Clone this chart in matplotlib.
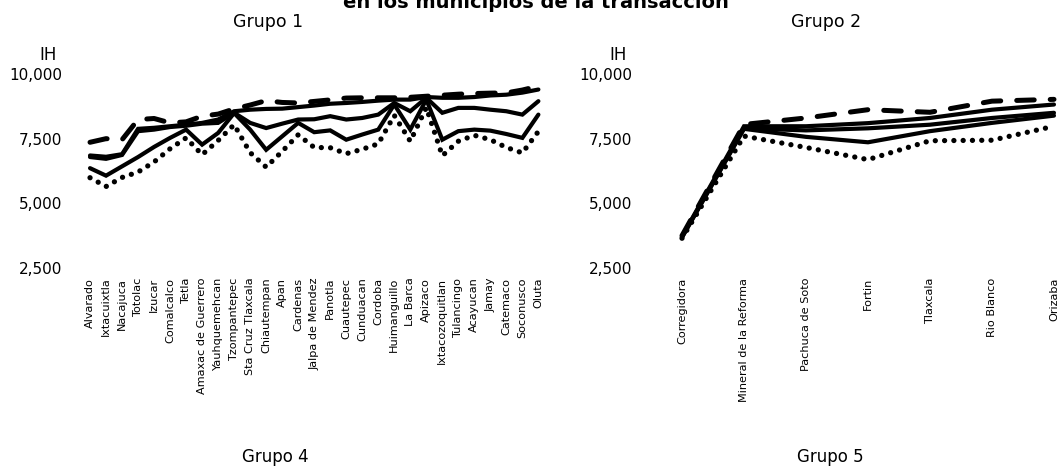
import matplotlib
matplotlib.use("Agg")
import matplotlib.pyplot as plt

plt.rcParams['font.family'] = ['DejaVu Sans']

# Municipios del grupo 1
g1_municipios = [
    "Alvarado", "Ixtacuixtla", "Nacajuca", "Totolac", "Izucar", "Comalcalco",
    "Tetla", "Amaxac de Guerrero", "Yauhquemehcan", "Tzompantepec",
    "Sta Cruz Tlaxcala", "Chiautempan", "Apan", "Cardenas", "Jalpa de Mendez",
    "Panotla", "Cuautepec", "Cunduacan", "Cordoba", "Huimanguillo", "La Barca",
    "Apizaco", "Ixtacozoquitlan", "Tulancingo", "Acayucan", "Jamay",
    "Catemaco", "Soconusco", "Oluta",
]
g1_max = [7360, 7500, 7460, 8240, 8280, 8110, 8150, 8370, 8450, 8650, 8800,
          8970, 8900, 8880, 8940, 9000, 9070, 9080, 9080, 9080, 9100, 9140,
          9180, 9220, 9245, 9260, 9270, 9380, 9530]
g1_alto = [6850, 6800, 6900, 7880, 7920, 7980, 8040, 8110, 8240, 8560, 8620,
           8650, 8660, 8720, 8780, 8850, 8880, 8920, 8970, 9010, 9010, 9110,
           9080, 9080, 9110, 9170, 9200, 9280, 9400]
g1_medio = [6790, 6720, 6870, 7790, 7850, 7950, 8000, 8080, 8110, 8500, 8110,
            7910, 8080, 8240, 8250, 8370, 8240, 8300, 8430, 8880, 8560, 9080,
            8500, 8690, 8690, 8620, 8560, 8430, 8950]
g1_bajo = [6360, 6070, 6430, 6790, 7180, 7530, 7850, 7270, 7720, 8490, 7850,
           7070, 7590, 8110, 7750, 7820, 7460, 7660, 7850, 8820, 7850, 9010,
           7460, 7790, 7850, 7810, 7680, 7530, 8430]
g1_min = [5990, 5650, 6000, 6210, 6600, 7110, 7530, 6880, 7430, 8040, 6960,
          6400, 7010, 7650, 7160, 7150, 6920, 7090, 7300, 8400, 7400, 8700,
          6840, 7400, 7630, 7460, 7160, 6950, 7780]

# Municipios del grupo 2
g2_municipios = ["Corregidora", "Mineral de la Reforma", "Pachuca de Soto",
                 "Fortin", "Tlaxcala", "Rio Blanco", "Orizaba"]
g2_max = [3750, 8050, 8300, 8620, 8520, 8950, 9020]
g2_alto = [3720, 7980, 7980, 8100, 8300, 8620, 8820]
g2_medio = [3700, 7900, 7820, 7900, 8040, 8300, 8500]
g2_bajo = [3680, 7880, 7570, 7360, 7790, 8110, 8390]
g2_min = [3650, 7600, 7160, 6690, 7420, 7440, 7980]

y_ticks = [2500, 5000, 7500, 10000]
y_ticklabels = ["2,500", "5,000", "7,500", "10,000"]

W, H = 1060, 468
fig = plt.figure(figsize=(W / 100, H / 100), dpi=100)
fig.patch.set_facecolor("white")


def px_axes(left, right, top, bottom):
    return fig.add_axes([left / W, 1 - bottom / H, (right - left) / W, (bottom - top) / H])


def draw_group(ax, cats, series, xlim):
    x = list(range(len(cats)))
    dashed, top, mid, low, dotted = series
    ax.plot(x, dashed, color="black", lw=3.6, linestyle=(0, (3.5, 3.2)),
            dash_capstyle="round", solid_capstyle="round")
    for s in (top, mid, low):
        ax.plot(x, s, color="black", lw=3.0, solid_joinstyle="miter",
                solid_capstyle="round")
    ax.plot(x, dotted, color="black", lw=3.8, linestyle=(0, (0.01, 1.75)),
            dash_capstyle="round")
    ax.set_xlim(*xlim)
    ax.set_ylim(2500, 10000)
    ax.set_xticks(x)
    ax.set_xticklabels(cats, rotation=90, fontsize=8.1, va="top")
    ax.set_yticks(y_ticks)
    ax.set_yticklabels(y_ticklabels, fontsize=11)
    ax.tick_params(axis="both", length=0)
    ax.tick_params(axis="x", pad=7)
    ax.tick_params(axis="y", pad=3)
    for sp in ax.spines.values():
        sp.set_visible(False)
    ax.patch.set_alpha(0)


ax1 = px_axes(66, 552, 74, 268)
draw_group(ax1, g1_municipios, [g1_max, g1_alto, g1_medio, g1_bajo, g1_min],
           (-1.5, 28.85))

ax2 = px_axes(636, 1058, 74, 268)
draw_group(ax2, g2_municipios, [g2_max, g2_alto, g2_medio, g2_bajo, g2_min],
           (-0.742, 6.065))


def fig_text(x, y, s, **kw):
    fig.text(x / W, 1 - y / H, s, **kw)


fig_text(536, 8, "en los municipios de la transacción", ha="center",
         va="baseline", fontsize=14, fontweight="bold")
fig_text(268, 22, "Grupo 1", ha="center", va="center", fontsize=12.5)
fig_text(826, 22, "Grupo 2", ha="center", va="center", fontsize=12.5)
fig_text(48, 55, "IH", ha="center", va="center", fontsize=12)
fig_text(618, 55, "IH", ha="center", va="center", fontsize=12)
fig_text(275, 457, "Grupo 4", ha="center", va="center", fontsize=12)
fig_text(830, 457, "Grupo 5", ha="center", va="center", fontsize=12)

fig.savefig("out.png", dpi=100, facecolor="white")
